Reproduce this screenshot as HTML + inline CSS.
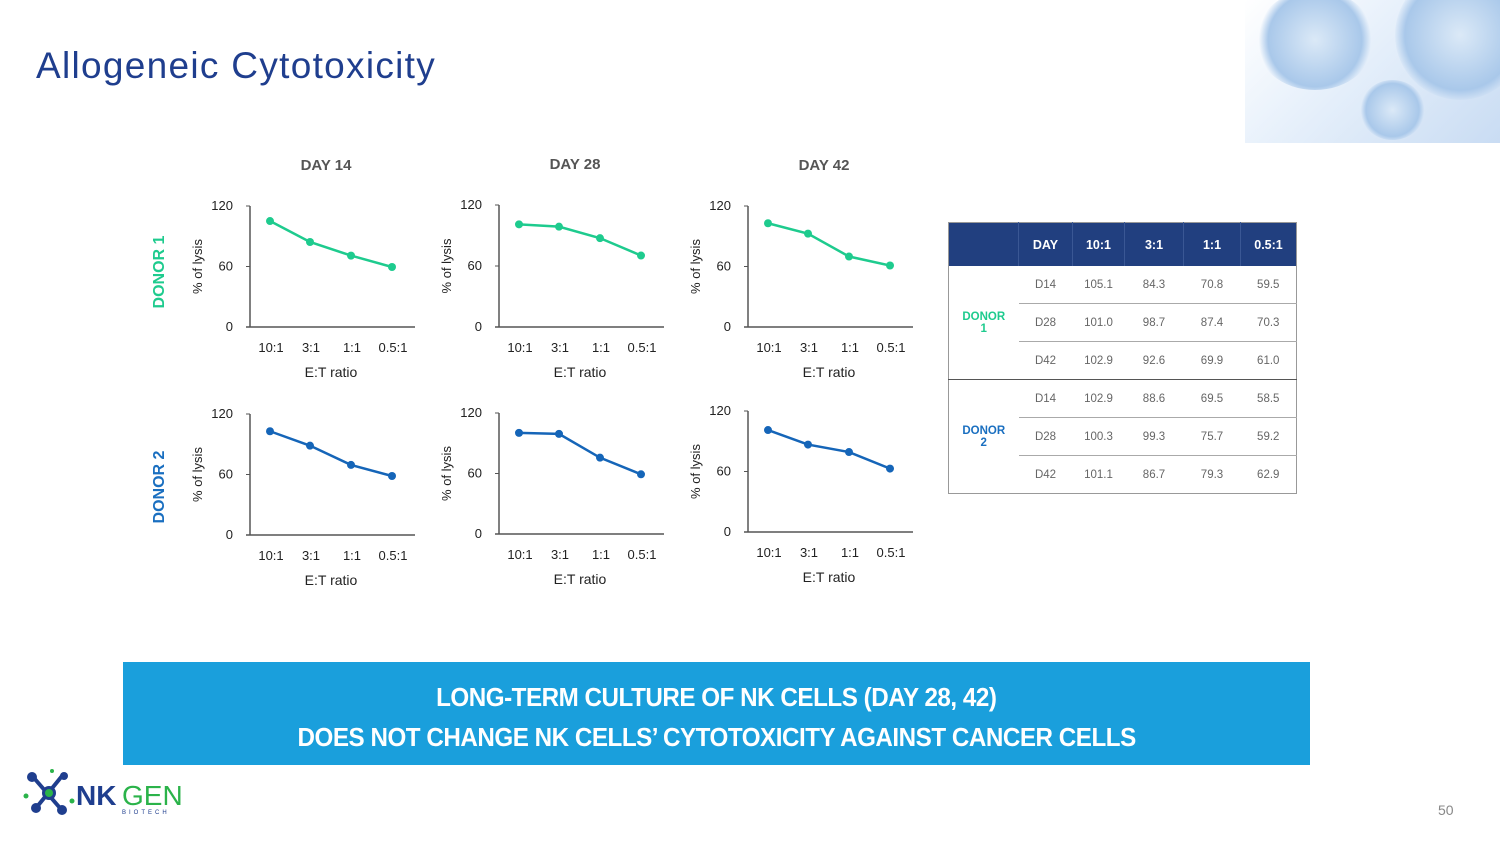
<!DOCTYPE html>
<html><head><meta charset="utf-8"><style>
body{margin:0;width:1500px;height:843px;overflow:hidden;background:#fff;font-family:"Liberation Sans",sans-serif;position:relative}
#title{position:absolute;left:36px;top:45px;font-size:37px;color:#1f3e8e;font-weight:normal;letter-spacing:1.3px}
#deco{position:absolute;left:1245px;top:0;width:255px;height:143px;background:linear-gradient(135deg,#fff 0%,#e8f1fb 40%,#c9dcf3 100%)}
.blob{position:absolute;border-radius:50%;background:radial-gradient(circle,#dbe9f7 0%,#a9c8ea 60%,rgba(160,195,235,0) 72%)}
#tbl{position:absolute;left:948px;top:222px;width:348px;border-collapse:collapse;table-layout:fixed;font-size:11.5px;color:#666;text-align:center}
#tbl th{background:#213f7f;color:#fff;height:41px;font-size:12.5px;border-right:1px solid #3a5794}
#tbl td{height:35px;border-bottom:1px solid #aaa}
#tbl{border:1px solid #999}
#banner{position:absolute;left:123px;top:662px;width:1187px;height:103px;background:#1a9fdc;color:#fff;font-weight:bold;font-size:26px;text-align:center;line-height:40px;padding-top:15px;box-sizing:border-box;letter-spacing:-0.5px}
#banner span{display:inline-block;transform:scaleX(0.93)}
#pg{position:absolute;left:1438px;top:802px;font-size:14px;color:#888}
</style></head><body>
<div id="title">Allogeneic Cytotoxicity</div>
<div id="deco">
<div class="blob" style="left:10px;top:-10px;width:120px;height:100px"></div>
<div class="blob" style="left:150px;top:-30px;width:130px;height:130px"></div>
<div class="blob" style="left:115px;top:80px;width:65px;height:60px"></div>
</div>
<svg id="charts" width="1500" height="843" style="position:absolute;left:0;top:0"></svg>
<table id="tbl">
<colgroup><col style="width:70px"><col style="width:54px"><col style="width:52px"><col style="width:59px"><col style="width:57px"><col style="width:56px"></colgroup>
<tr><th></th><th>DAY</th><th>10:1</th><th>3:1</th><th>1:1</th><th style="border-right:none">0.5:1</th></tr>
<tr><td rowspan="3" style="color:#1ecb8e;font-weight:bold;border-bottom:1px solid #555">DONOR<br>1</td><td>D14</td><td>105.1</td><td>84.3</td><td>70.8</td><td>59.5</td></tr>
<tr><td>D28</td><td>101.0</td><td>98.7</td><td>87.4</td><td>70.3</td></tr>
<tr><td style="border-bottom:1px solid #555">D42</td><td style="border-bottom:1px solid #555">102.9</td><td style="border-bottom:1px solid #555">92.6</td><td style="border-bottom:1px solid #555">69.9</td><td style="border-bottom:1px solid #555">61.0</td></tr>
<tr><td rowspan="3" style="color:#1a6fc0;font-weight:bold;border-bottom:none">DONOR<br>2</td><td>D14</td><td>102.9</td><td>88.6</td><td>69.5</td><td>58.5</td></tr>
<tr><td>D28</td><td>100.3</td><td>99.3</td><td>75.7</td><td>59.2</td></tr>
<tr><td style="border-bottom:none">D42</td><td style="border-bottom:none">101.1</td><td style="border-bottom:none">86.7</td><td style="border-bottom:none">79.3</td><td style="border-bottom:none">62.9</td></tr>
</table>
<div id="banner"><span>LONG-TERM CULTURE OF NK CELLS (DAY 28, 42)</span><br><span>DOES NOT CHANGE NK CELLS’ CYTOTOXICITY AGAINST CANCER CELLS</span></div>
<svg width="170" height="60" style="position:absolute;left:22px;top:768px">
<g stroke="#1f3e8e" stroke-width="4"><line x1="12" y1="10" x2="38" y2="40"/><line x1="40" y1="8" x2="14" y2="40"/></g>
<circle cx="10" cy="9" r="5" fill="#1f3e8e"/><circle cx="42" cy="8" r="4" fill="#1f3e8e"/><circle cx="14" cy="40" r="5" fill="#1f3e8e"/><circle cx="40" cy="42" r="5" fill="#1f3e8e"/>
<circle cx="27" cy="25" r="7" fill="#1f3e8e"/><circle cx="27" cy="25" r="4" fill="#2bb34a"/>
<circle cx="4" cy="28" r="2.5" fill="#2bb34a"/><circle cx="50" cy="33" r="2.5" fill="#2bb34a"/><circle cx="30" cy="3" r="2" fill="#2bb34a"/>
<text x="54" y="37" font-size="28" font-weight="bold" fill="#1f3e8e" font-family="Liberation Sans,sans-serif">NK</text>
<text x="100" y="37" font-size="28" fill="#2bb34a" font-family="Liberation Sans,sans-serif">GEN</text>
<text x="100" y="46" font-size="6" letter-spacing="3" fill="#1f3e8e" font-family="Liberation Sans,sans-serif">BIOTECH</text>
</svg>
<div id="pg">50</div>
<script>
const categories=["10:1","3:1","1:1","0.5:1"];
const dayTitles=["DAY 14","DAY 28","DAY 42"];
const yTicks=[0,60,120];
const donor1D14=[105.1,84.3,70.8,59.5];
const donor1D28=[101.0,98.7,87.4,70.3];
const donor1D42=[102.9,92.6,69.9,61.0];
const donor2D14=[102.9,88.6,69.5,58.5];
const donor2D28=[100.3,99.3,75.7,59.2];
const donor2D42=[101.1,86.7,79.3,62.9];
const svg=document.getElementById('charts');
const NS='http://www.w3.org/2000/svg';
function mk(tag,attrs,txt){const e=document.createElementNS(NS,tag);for(const k in attrs)e.setAttribute(k,attrs[k]);if(txt!=null)e.textContent=txt;svg.appendChild(e);return e;}
const layouts=[
 {ax:250,y0:327,y1:206},{ax:499,y0:327,y1:205},{ax:748,y0:327,y1:206},
 {ax:250,y0:535,y1:414},{ax:499,y0:534,y1:413},{ax:748,y0:532,y1:411}];
const series=[donor1D14,donor1D28,donor1D42,donor2D14,donor2D28,donor2D42];
const xOff=[20,60,101,142];
series.forEach((vals,i)=>{
 const L=layouts[i];const col=i<3?'#1ecb8e':'#1565b8';
 const yS=v=>L.y0-(v/120)*(L.y0-L.y1);
 const xS=j=>L.ax+xOff[j];
 let a=mk('line',{x1:L.ax,y1:L.y1,x2:L.ax,y2:L.y0,stroke:'#555','stroke-width':1.5});
 
 a=mk('line',{x1:L.ax-4,y1:L.y0,x2:L.ax+165,y2:L.y0,stroke:'#555','stroke-width':1.5});
 
 yTicks.forEach(t=>{
  const tl=mk('line',{x1:L.ax-4,y1:yS(t),x2:L.ax,y2:yS(t),stroke:'#555'});
  
  const tx=mk('text',{x:L.ax-17,y:yS(t)+4,'text-anchor':'end','font-size':13,fill:'#222'},t);
  
 });
 categories.forEach((c,j)=>{
  const tx=mk('text',{x:xS(j)+1,y:L.y0+25,'text-anchor':'middle','font-size':13,fill:'#222'},c);
  
 });
 let t=mk('text',{x:L.ax+81,y:L.y0+50,'text-anchor':'middle','font-size':14,fill:'#222'},'E:T ratio');
 
 const cy=(L.y0+L.y1)/2;
 t=mk('text',{x:L.ax-48,y:cy,'text-anchor':'middle','font-size':13,fill:'#222',transform:`rotate(-90 ${L.ax-48} ${cy})`},'% of lysis');
 
 const pts=vals.map((v,j)=>xS(j)+','+yS(v)).join(' ');
 const pl=mk('polyline',{points:pts,fill:'none',stroke:col,'stroke-width':2.5});
 
 vals.forEach((v,j)=>{
  const c=mk('circle',{cx:xS(j),cy:yS(v),r:4,fill:col});
  
 });
});
dayTitles.forEach((d,i)=>{
 const t=mk('text',{x:layouts[i].ax+76,y:i==1?169:170,'text-anchor':'middle','font-size':15,'font-weight':'bold',fill:'#555'},d);
 
});
let d=mk('text',{x:164,y:272,'text-anchor':'middle','font-size':16,'font-weight':'bold',fill:'#1ecb8e',transform:'rotate(-90 164 272)'},'DONOR 1');

d=mk('text',{x:164,y:487,'text-anchor':'middle','font-size':16,'font-weight':'bold',fill:'#1a6fc0',transform:'rotate(-90 164 487)'},'DONOR 2');

</script>
</body></html>
